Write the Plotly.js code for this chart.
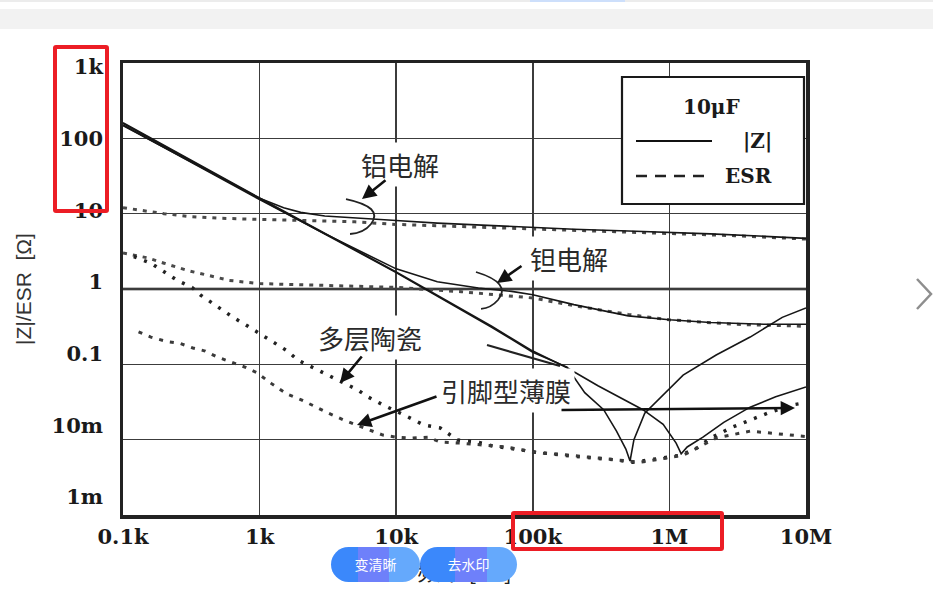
<!DOCTYPE html>
<html><head><meta charset="utf-8">
<script src="https://cdn.plot.ly/plotly-3.0.1.min.js"></script>
<style>
html,body{margin:0;padding:0;background:#fff;width:933px;height:597px;overflow:hidden;position:relative}
#chart{position:absolute;left:0;top:0;width:933px;height:597px}
.ov{position:absolute;z-index:5;box-sizing:border-box}
.topline{left:0;top:0;width:933px;height:2px;background:#ececec}
.topblue{left:530px;top:0;width:95px;height:2px;background:#cddffb}
.graybar{left:0;top:9px;width:933px;height:20px;background:#f2f2f2}
.rb{border:4px solid #ec1d25;border-radius:3px}
.btn{height:35px;border-radius:18px;color:#fff;font-family:"Noto Sans CJK SC",sans-serif;font-size:14px;line-height:35px;text-align:center}
</style></head><body>
<div id="chart"></div>
<div class="ov topline"></div><div class="ov topblue"></div>
<div class="ov graybar"></div>
<div class="ov rb" style="left:53px;top:45px;width:56px;height:168px"></div>
<div class="ov rb" style="left:511px;top:511px;width:213px;height:40px"></div>
<div class="ov btn" style="left:331px;top:547px;width:89px;background:linear-gradient(90deg,#3b88fb 0,#3b88fb 30%,#6e80fa 30%,#6e80fa 65%,#65a9fc 65%,#65a9fc 100%)">变清晰</div>
<div class="ov btn" style="left:420px;top:547px;width:97px;background:linear-gradient(90deg,#3b88fb 0,#3b88fb 36%,#6e80fa 36%,#6e80fa 69%,#65a9fc 69%,#65a9fc 100%)">去水印</div>
<svg class="ov" style="left:905px;top:270px" width="28" height="50"><polyline points="12,9 26,24 12,39" fill="none" stroke="#8e8e8e" stroke-width="2.5"/></svg>
<script>
// ---------- data (frequency in Hz, values in ohm) ----------
const xTickVals = [1e2, 1e3, 1e4, 1e5, 1e6, 1e7];
const xTickText = ["0.1k", "1k", "10k", "100k", "1M", "10M"];
const yTickVals = [1e-3, 1e-2, 1e-1, 1, 10, 100, 1000];
const yTickText = ["1m", "10m", "0.1", "1", "10", "100", "1k"];

// Aluminium electrolytic
const alZFreq = [100, 200, 500, 1e3, 1.5e3, 2e3, 3e3, 5e3, 1e4, 2e4, 5e4, 1e5, 2e5, 5e5, 1e6, 2e6, 5e6, 1e7];
const alZ     = [148, 76, 31, 16.0, 12.0, 10.4, 9.3, 8.7, 8.1, 7.5, 6.9, 6.5, 6.2, 5.9, 5.7, 5.4, 5.0, 4.7];
const alEsrFreq = [100, 200, 300, 500, 1e3, 2e3, 5e3, 1e4, 2e4, 5e4, 1e5, 3e5, 1e6, 3e6, 1e7];
const alEsr     = [12, 10, 9.2, 8.7, 8.4, 8.2, 7.8, 7.2, 6.9, 6.6, 6.3, 5.9, 5.5, 5.1, 4.6];

// Tantalum electrolytic
const taZFreq = [100, 1e3, 3e3, 5e3, 1e4, 2e4, 4e4, 7e4, 1e5, 2e5, 5e5, 1e6, 2e6, 5e6, 1e7];
const taZ     = [150, 15.4, 5.4, 3.4, 1.85, 1.25, 1.03, 0.93, 0.84, 0.62, 0.44, 0.39, 0.36, 0.34, 0.34];
const taEsrFreq = [100, 150, 200, 300, 400, 600, 1e3, 3e3, 1e4, 3e4, 5e4, 1e5, 2e5, 5e5, 1e6, 3e6, 1e7];
const taEsr     = [3.0, 2.6, 2.2, 1.75, 1.55, 1.3, 1.18, 1.12, 1.05, 0.92, 0.84, 0.76, 0.6, 0.46, 0.39, 0.34, 0.32];

// Multilayer ceramic
const cerZFreq = [100, 1e3, 1e4, 5e4, 1e5, 1.78e5, 2.4e5, 3.3e5, 4.1e5, 4.8e5, 5.15e5, 5.5e5, 6.6e5, 1e6, 1.26e6, 2.2e6, 3.9e6, 6.7e6, 1e7];
const cerZ     = [158, 15.8, 1.65, 0.31, 0.145, 0.092, 0.042, 0.025, 0.013, 0.0075, 0.0052, 0.01, 0.0225, 0.047, 0.072, 0.133, 0.23, 0.42, 0.56];
const cerEsrFreq = [120, 160, 250, 320, 370, 490, 640, 780, 960, 1.23e3, 1.6e3, 1.9e3, 2.4e3, 3.3e3, 5.2e3, 6.2e3, 8.3e3, 1.16e4, 1.6e4, 2.1e4, 2.8e4, 3.9e4, 5.1e4, 6.8e4, 1e5, 2e5, 4e5, 5.4e5, 8e5, 1.2e6, 1.6e6, 2e6, 2.9e6, 3.9e6, 5.4e6, 8e6, 1e7];
const cerEsr     = [2.7, 2.2, 1.3, 1.05, 0.83, 0.58, 0.42, 0.34, 0.27, 0.2, 0.15, 0.114, 0.092, 0.068, 0.046, 0.037, 0.028, 0.021, 0.0156, 0.0143, 0.0099, 0.0093, 0.0082, 0.0077, 0.0069, 0.006, 0.0054, 0.005, 0.0055, 0.0062, 0.0078, 0.0105, 0.0147, 0.018, 0.023, 0.029, 0.031];

// Leaded film
const filmZFreq = [100, 1e3, 1e4, 5e4, 1e5, 1.78e5, 3e5, 6.4e5, 9e5, 1.12e6, 1.22e6, 1.35e6, 1.76e6, 2.5e6, 3.9e6, 6e6, 1e7];
const filmZ     = [161, 16.2, 1.68, 0.32, 0.15, 0.09, 0.052, 0.025, 0.016, 0.009, 0.0065, 0.008, 0.0108, 0.017, 0.027, 0.037, 0.05];
const filmEsrFreq = [130, 160, 210, 260, 325, 400, 490, 660, 780, 960, 1.23e3, 1.6e3, 2e3, 2.5e3, 3.1e3, 4.2e3, 8e3, 1e4, 1.3e4, 1.7e4, 2.1e4, 2.9e4, 4e4, 6.4e4, 1.07e5, 1.4e5, 1.9e5, 4.1e5, 6.1e5, 1.26e6, 2.2e6, 3.9e6, 7.6e6, 1e7];
const filmEsr     = [0.27, 0.23, 0.2, 0.19, 0.165, 0.15, 0.125, 0.104, 0.092, 0.077, 0.055, 0.04, 0.034, 0.028, 0.023, 0.018, 0.0115, 0.0108, 0.0105, 0.0108, 0.0093, 0.009, 0.0085, 0.008, 0.0067, 0.0065, 0.0062, 0.0054, 0.005, 0.0062, 0.0105, 0.013, 0.0115, 0.011];

const labels = ["铝电解", "钽电解", "多层陶瓷", "引脚型薄膜"];
const legendTitle = "10μF";
const legendNames = ["|Z|", "ESR"];

// ---------- styles / layout helpers ----------
const PL = 123, PR = 806, PT = 63, PB = 515;
const px = x => (x - PL) / (PR - PL);
const py = y => (PB - y) / (PB - PT);
const pathP = s => s.replace(/(-?\d+\.?\d*),(-?\d+\.?\d*)/g, (m, a, b) => px(+a).toFixed(4) + "," + py(+b).toFixed(4));

const zLine = {color: "#161616", width: 1.6};
const esrA = {color: "#4a4a4a", width: 3, dash: "4px,6px"};
const esrC = {color: "#222", width: 3.5, dash: "3px,8px"};
const esrF = {color: "#3a3a3a", width: 3, dash: "4px,7px"};
function tr(x, y, line) {
  return {x: x, y: y, type: "scatter", mode: "lines", line: line, hoverinfo: "skip", showlegend: false, xaxis: "x", yaxis: "y"};
}
const traces = [
  tr(alEsrFreq, alEsr, esrA), tr(taEsrFreq, taEsr, esrA),
  tr(cerEsrFreq, cerEsr, esrC), tr(filmEsrFreq, filmEsr, esrF),
  tr(alZFreq, alZ, zLine), tr(taZFreq, taZ, zLine),
  tr(cerZFreq, cerZ, zLine), tr(filmZFreq, filmZ, zLine)
];

const tickFont = {family: "DejaVu Serif", size: 21, color: "#1a1a1a", weight: "bold"};
const legFont = {family: "DejaVu Serif", size: 20, color: "#1a1a1a", weight: "bold"};
const cjk = {family: "Noto Sans CJK SC", size: 26, color: "#2a2a2a"};

function txt(text, cx, cy, font, bg) {
  const a = {xref: "paper", yref: "paper", x: px(cx), y: py(cy), text: text, showarrow: false,
    font: font, xanchor: "center", yanchor: "middle"};
  if (bg) { a.bgcolor = "#fff"; a.borderpad = 3; }
  return a;
}
function arr(hx, hy, tx, ty) {
  return {xref: "paper", yref: "paper", x: px(hx), y: py(hy), ax: tx - hx, ay: ty - hy, text: "",
    showarrow: true, arrowhead: 2, arrowsize: 1.1, arrowwidth: 2.6, arrowcolor: "#111"};
}
const annotations = [
  txt(labels[0], 400, 164, cjk, true), txt(labels[1], 569, 258, cjk, true),
  txt(labels[2], 370, 337, cjk, true), txt(labels[3], 506, 390, cjk, true),
  arr(362, 199, 387, 179), arr(497, 283, 523, 265), arr(340, 383, 363, 355), arr(357, 425, 438, 396),
  arr(795, 408, 560, 410),
  txt(legendTitle, 711, 107, legFont), txt(legendNames[0], 757, 141, legFont), txt(legendNames[1], 748, 176, legFont)
];

const shapes = [
  {type: "line", xref: "paper", yref: "paper", x0: 0, x1: 1, y0: 0.5, y1: 0.5, line: {color: "#000", width: 2.6}, layer: "below"},
  {type: "path", xref: "paper", yref: "paper", path: pathP("M346,199 Q384,207 371,224 Q364,233 350,234"), line: {color: "#222", width: 1.8}},
  {type: "path", xref: "paper", yref: "paper", path: pathP("M476,272 Q512,283 498,300 Q491,308 481,309"), line: {color: "#222", width: 1.8}},
  {type: "line", xref: "paper", yref: "paper", x0: px(487), y0: py(345), x1: px(560), y1: py(366), line: {color: "#222", width: 2.2}},
  {type: "rect", xref: "paper", yref: "paper", x0: px(622), x1: px(804), y0: py(204), y1: py(77), fillcolor: "#fff", line: {color: "#1a1a1a", width: 2.2}, layer: "above"},
  {type: "line", xref: "paper", yref: "paper", x0: px(636), x1: px(712), y0: py(141), y1: py(141), line: {color: "#111", width: 2}, layer: "above"},
  {type: "line", xref: "paper", yref: "paper", x0: px(636), x1: px(712), y0: py(176), y1: py(176), line: {color: "#222", width: 2.6, dash: "11px,8px"}, layer: "above"}
];

const layout = {
  width: 933, height: 597,
  margin: {l: PL, r: 933 - PR, t: PT, b: 597 - PB, pad: 0},
  paper_bgcolor: "#fff", plot_bgcolor: "#fff", showlegend: false,
  xaxis: {type: "log", range: [2, 7], tickvals: xTickVals, ticktext: xTickText, ticks: "",
    showgrid: true, gridcolor: "#3c3c3c", gridwidth: 1.6, zeroline: false,
    showline: true, linecolor: "#222", linewidth: 3.5, mirror: true,
    tickfont: tickFont, ticklabelstandoff: 0,
    title: {text: "频率 [Hz]", font: {family: "Noto Sans CJK SC", size: 23, color: "#222"}, standoff: 17}},
  yaxis: {type: "log", range: [-3, 3], tickvals: yTickVals, showticklabels: false, ticks: "",
    showgrid: true, gridcolor: "#3c3c3c", gridwidth: 1.6, zeroline: false,
    showline: true, linecolor: "#222", linewidth: 3.5, mirror: true},
  yaxis2: {type: "log", overlaying: "y", side: "left", range: [-3.2512, 3.0558],
    tickvals: yTickVals, ticktext: yTickText, ticks: "", showgrid: false, showline: false, zeroline: false,
    tickfont: tickFont, ticklabelstandoff: 19,
    title: {text: "|Z|/ESR  [Ω]", font: {family: "Liberation Sans", size: 21, color: "#333"}, standoff: 14}},
  annotations: annotations,
  shapes: shapes
};

// invisible anchor for the label axis
traces.push({x: [1e3], y: [1], type: "scatter", mode: "markers", marker: {opacity: 0}, hoverinfo: "skip", showlegend: false, xaxis: "x", yaxis: "y2"});

Plotly.newPlot("chart", traces, layout, {displayModeBar: false, staticPlot: true});
</script>
</body></html>
